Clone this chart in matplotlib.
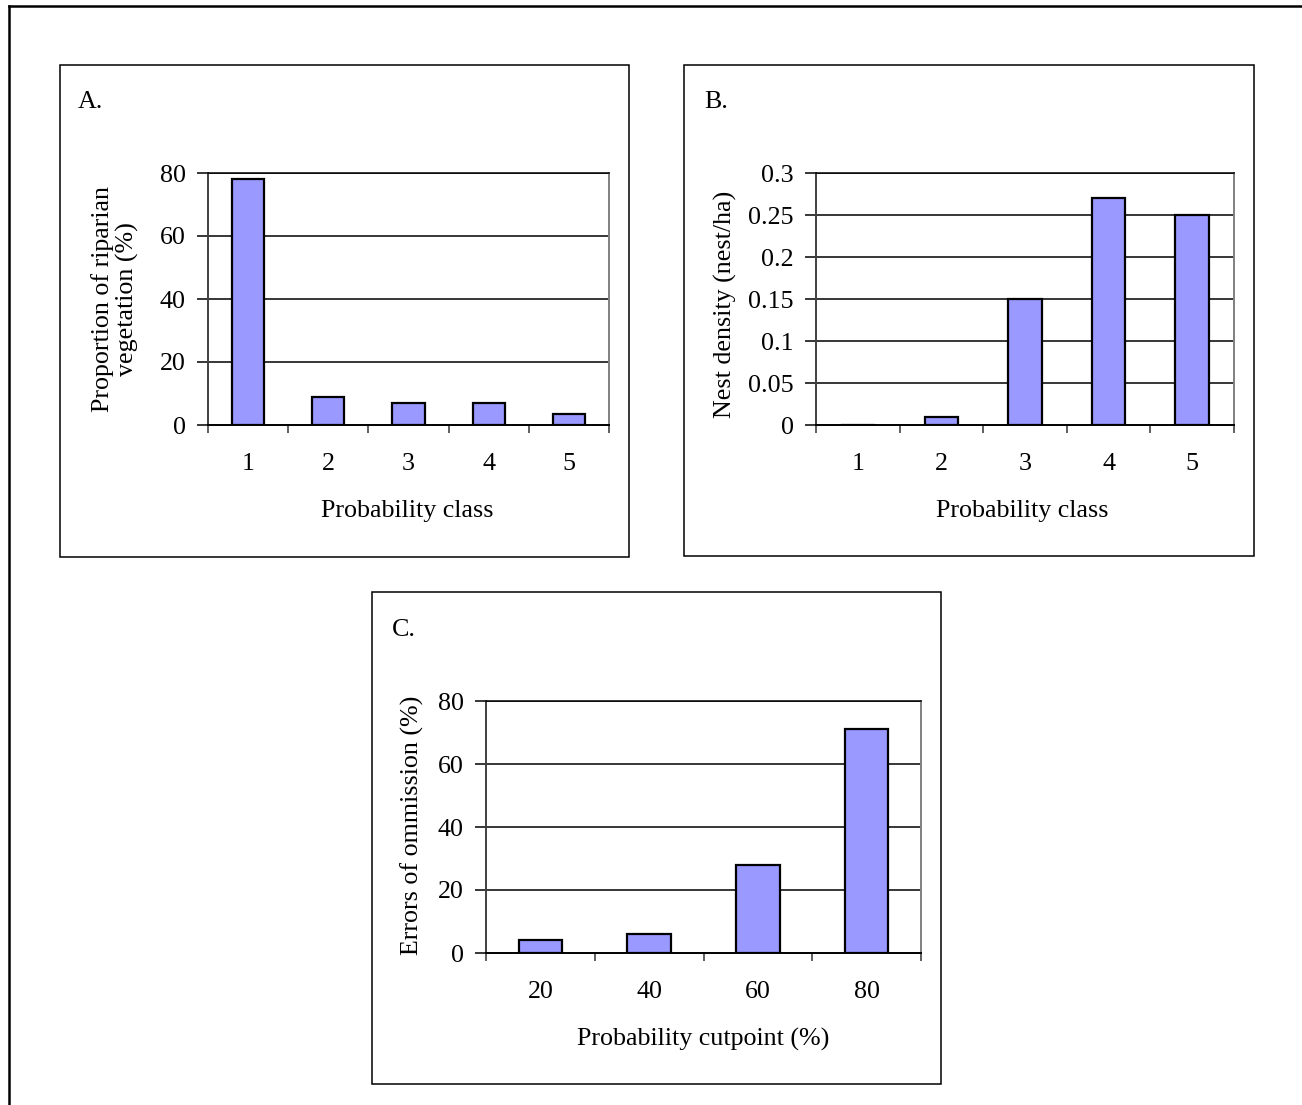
import matplotlib
matplotlib.use("Agg")
import matplotlib.pyplot as plt
from matplotlib.patches import Rectangle
from matplotlib.lines import Line2D

# ---- data ----
classes = ["1", "2", "3", "4", "5"]
riparian_pct = [78, 9, 7, 7, 3.5]
nest_density = [0, 0.01, 0.15, 0.27, 0.25]
cutpoints = ["20", "40", "60", "80"]
omission_pct = [4, 6, 28, 71]

yticksA = [0, 20, 40, 60, 80]
yticksB = [0, 0.05, 0.1, 0.15, 0.2, 0.25, 0.3]
yticklabelsB = ["0", "0.05", "0.1", "0.15", "0.2", "0.25", "0.3"]
yticksC = [0, 20, 40, 60, 80]

W, H = 1302, 1105
plt.rcParams['font.family'] = ['Liberation Serif', 'DejaVu Serif']
FS = 18.7
fig = plt.figure(figsize=(W / 100, H / 100), dpi=100)

def fx(x):
    return x / W

def fy(y):
    return 1 - y / H

def box(x0, y0, x1, y1, lw=1.1):
    fig.add_artist(Rectangle((fx(x0), fy(y1)), fx(x1) - fx(x0), (y1 - y0) / H,
                             transform=fig.transFigure, fill=False,
                             edgecolor='black', linewidth=lw))

# outer border (top and left only visible)
fig.add_artist(Line2D([fx(8.5), 1.0], [fy(6), fy(6)], transform=fig.transFigure,
                      color='black', lw=1.8))
fig.add_artist(Line2D([fx(8.5), fx(8.5)], [fy(6), 0.0], transform=fig.transFigure,
                      color='black', lw=1.8))

def panel(x0, y0, x1, y1, cats, vals, yticks, ylabs, ymax):
    ax = fig.add_axes([fx(x0), fy(y1), fx(x1) - fx(x0), (y1 - y0) / H])
    n = len(cats)
    pos = list(range(n))
    ax.bar(pos, vals, width=0.4, color='#9999FF', edgecolor='black',
           linewidth=1.6, zorder=3)
    ax.set_xlim(-0.5, n - 0.5)
    ax.set_ylim(0, ymax)
    for t in yticks[1:]:
        ax.axhline(t, color='black', lw=1.1, zorder=1)
    ax.set_yticks(yticks)
    ax.set_yticklabels(ylabs, fontsize=FS)
    ax.tick_params(axis='y', direction='out', length=8, width=1.1,
                   color='black', pad=8)
    ax.set_xticks(pos)
    ax.set_xticklabels([])
    ax.tick_params(axis='x', which='major', length=0)
    ax.set_xticks([i - 0.5 for i in range(n + 1)], minor=True)
    ax.tick_params(axis='x', which='minor', direction='out', length=6,
                   width=1.1, color='#333333')
    ax.spines['left'].set_color('#404040')
    ax.spines['left'].set_linewidth(1.4)
    ax.spines['bottom'].set_color('black')
    ax.spines['bottom'].set_linewidth(1.4)
    ax.spines['top'].set_color('black')
    ax.spines['top'].set_linewidth(1.1)
    ax.spines['right'].set_color('#808080')
    ax.spines['right'].set_linewidth(1.4)
    ax.set_facecolor('white')
    return ax

# ---- Panel A ----
box(60, 65, 629, 557)
axA = panel(208, 173, 609, 425, classes, riparian_pct, yticksA,
            [str(v) for v in yticksA], 80)
for i, c in enumerate(classes):
    xp = 208 + (609 - 208) * (i + 0.5) / len(classes)
    fig.text(fx(xp), fy(464), c, ha='center', va='center', fontsize=FS)
fig.text(fx(78), fy(102), "A.", ha='left', va='center', fontsize=FS)
fig.text(fx(115), fy(299), "Proportion of riparian\nvegetation (%)", rotation=90,
         ha='center', va='center', multialignment='center', fontsize=FS,
         linespacing=1.12)
fig.text(fx(407), fy(511), "Probability class", ha='center', va='center', fontsize=FS)

# ---- Panel B ----
box(684, 65, 1254, 556)
axB = panel(816, 173, 1234, 425, classes, nest_density, yticksB, yticklabelsB, 0.3)
for i, c in enumerate(classes):
    xp = 816 + (1234 - 816) * (i + 0.5) / len(classes)
    fig.text(fx(xp), fy(464), c, ha='center', va='center', fontsize=FS)
fig.text(fx(704), fy(102), "B.", ha='left', va='center', fontsize=FS)
fig.text(fx(725), fy(304), "Nest density (nest/ha)", rotation=90,
         ha='center', va='center', fontsize=FS)
fig.text(fx(1022), fy(511), "Probability class", ha='center', va='center', fontsize=FS)

# ---- Panel C ----
box(372, 592, 941, 1084)
axC = panel(486, 701, 921, 953, cutpoints, omission_pct, yticksC,
            [str(v) for v in yticksC], 80)
for i, c in enumerate(cutpoints):
    xp = 486 + (921 - 486) * (i + 0.5) / len(cutpoints)
    fig.text(fx(xp), fy(992), c, ha='center', va='center', fontsize=FS)
fig.text(fx(392), fy(630), "C.", ha='left', va='center', fontsize=FS)
fig.text(fx(412), fy(825), "Errors of ommission (%)", rotation=90,
         ha='center', va='center', fontsize=FS)
fig.text(fx(703), fy(1039), "Probability cutpoint (%)", ha='center', va='center', fontsize=FS)

fig.savefig("out.png", dpi=100, facecolor='white')
